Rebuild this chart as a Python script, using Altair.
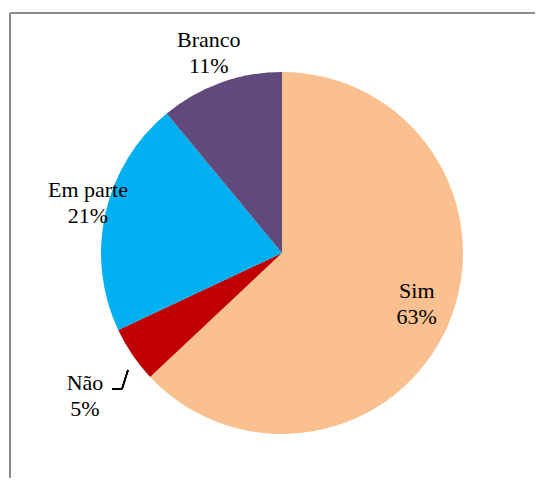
import altair as alt
import pandas as pd

categories = ["Sim", "Não", "Em parte", "Branco"]
values = [63, 5, 21, 11]
colors = ["#FAC090", "#C00000", "#00B0F0", "#604A7B"]

df = pd.DataFrame({
    "cat": categories,
    "val": values,
    "order": list(range(len(categories))),
})
df["label"] = [f"{c}\n{v}%" for c, v in zip(categories, values)]

# label placement (styling): distance from centre in px, angle tweak in degrees
label_r = {"Sim": 140, "Não": 236, "Em parte": 204, "Branco": 225}
label_da = {"Sim": -7.7, "Não": 0.8, "Em parte": 5.4, "Branco": 0.8}
r_expr = " : ".join([f"datum.cat == '{k}' ? {v}" for k, v in label_r.items()]) + " : 150"
a_expr = " : ".join([f"datum.cat == '{k}' ? {v}" for k, v in label_da.items()]) + " : 0"

CX, CY, R = 274, 245, 181

pie = alt.Chart(df).mark_arc(radius=R, stroke=None).encode(
    theta=alt.Theta("val:Q", stack=True),
    order=alt.Order("order:Q"),
    x=alt.value(CX), y=alt.value(CY),
    color=alt.Color("cat:N", scale=alt.Scale(domain=categories, range=colors), legend=None),
)

labels = alt.Chart(df).transform_joinaggregate(
    total="sum(val)"
).transform_window(
    cum="sum(val)", sort=[alt.SortField("order")], frame=[None, 0]
).transform_calculate(
    lr=r_expr,
    ang=f"(datum.cum - datum.val / 2) / datum.total * 2 * PI + ({a_expr}) * PI / 180",
).transform_calculate(
    px=f"{CX} + datum.lr * sin(datum.ang)",
    py=f"{CY} - datum.lr * cos(datum.ang)",
).mark_text(
    font="Liberation Serif", fontSize=22, lineBreak="\n", lineHeight=26,
    align="center", baseline="middle", color="black",
).encode(
    x=alt.X("px:Q", scale=None, axis=None),
    y=alt.Y("py:Q", scale=None, axis=None),
    text="label:N",
)

frame_top = alt.Chart(df).mark_rule(color="#8c8c8c", strokeWidth=1.5).encode(
    x=alt.value(2), x2=alt.value(527), y=alt.value(5)
)
frame_left = alt.Chart(df).mark_rule(color="#8c8c8c", strokeWidth=2).encode(
    x=alt.value(2), y=alt.value(5), y2=alt.value(470)
)
lead1 = alt.Chart(df).mark_rule(color="black", strokeWidth=1.5).encode(
    x=alt.value(104), x2=alt.value(114), y=alt.value(381)
)
lead2 = alt.Chart(df).mark_rule(color="black", strokeWidth=1.5).encode(
    x=alt.value(114), x2=alt.value(120), y=alt.value(381), y2=alt.value(362)
)

chart = alt.layer(frame_top, frame_left, pie, lead1, lead2, labels).properties(
    width=527, height=470, padding=0,
    autosize=alt.AutoSizeParams(type="none"),
).configure_view(stroke=None)

chart.save("out.html", embed_options={"renderer": "svg", "actions": False})
